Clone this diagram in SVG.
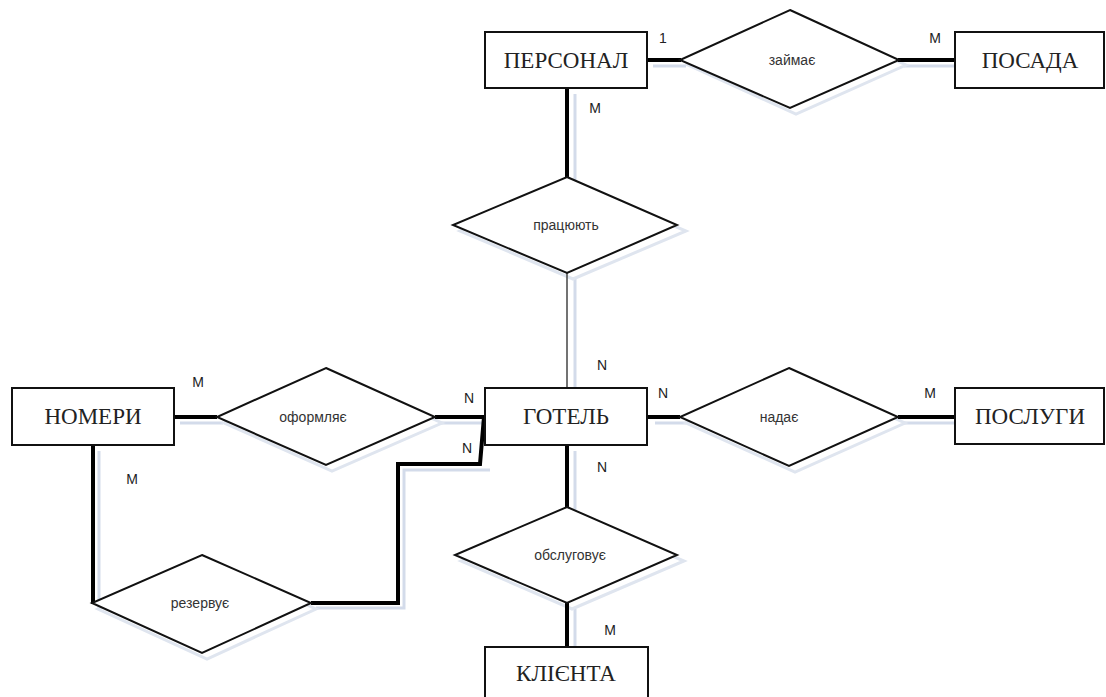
<svg xmlns="http://www.w3.org/2000/svg" width="1106" height="697" viewBox="0 0 1106 697">
<style>
.ent{fill:#fff;stroke:#111;stroke-width:2}
.rel{fill:#fff;stroke:#111;stroke-width:2;stroke-linejoin:miter}
.sh{fill:none;stroke:#d3dbea;stroke-width:3}
.shf{fill:#fff;stroke:#dfe5ef;stroke-width:3}
.et{font-family:"Liberation Serif",serif;font-size:23px;fill:#222;text-anchor:middle}
.rt{font-family:"Liberation Sans",sans-serif;font-size:14px;fill:#333;text-anchor:middle}
.ct{font-family:"Liberation Sans",sans-serif;font-size:14px;fill:#222;text-anchor:middle}
.thick{fill:none;stroke:#000;stroke-width:4}
.thin{fill:none;stroke:#444;stroke-width:1.5}
</style>
<rect width="1106" height="697" fill="#fff"/>
<g id="shadows">
<path class="sh" d="M653 66H686M904 66H961M575 94V182M575 279V392M223 423H180M441 423H491M99 451V608M490 470L488 470H404V608H316M575 451V512M575 609V652M686 423H655M904 423H961"/>
<polygon class="shf" points="796,16 906,65 796,114 688,65"/>
<polygon class="shf" points="573,183 686,231 573,279 460,231"/>
<polygon class="shf" points="332,374 442,423 332,471 224,423"/>
<polygon class="shf" points="795,374 905,423 795,472 686,423"/>
<polygon class="shf" points="207,561 316,609 207,659 98,609"/>
<polygon class="shf" points="572,513 684,561 572,609 461,561"/>
</g>
<g id="connectors">
<path class="thick" d="M647 60H681"/>
<path class="thick" d="M898 60H955"/>
<path class="thick" d="M567 88V178"/>
<path class="thin" d="M567 273V388"/>
<path class="thick" d="M174 417H217"/>
<path class="thick" d="M435 417H485"/>
<path class="thick" d="M647 417H680"/>
<path class="thick" d="M898 417H955"/>
<path class="thick" d="M484 417L480 464H398V603H311"/>
<path class="thick" d="M93 445V604"/>
<path class="thick" d="M567 445V507"/>
<path class="thick" d="M567 603V647"/>
</g>
<g id="ent-personal"><rect class="ent" x="485" y="32" width="162" height="56"/><text class="et" x="566" y="68">ПЕРСОНАЛ</text></g>
<g id="ent-posada"><rect class="ent" x="955" y="32" width="149" height="56"/><text class="et" x="1030" y="68">ПОСАДА</text></g>
<g id="ent-hotel"><rect class="ent" x="485" y="388" width="162" height="57"/><text class="et" x="566" y="424">ГОТЕЛЬ</text></g>
<g id="ent-nomery"><rect class="ent" x="12" y="388" width="162" height="57"/><text class="et" x="93" y="424">НОМЕРИ</text></g>
<g id="ent-posluhy"><rect class="ent" x="955" y="388" width="149" height="56"/><text class="et" x="1030" y="424">ПОСЛУГИ</text></g>
<g id="ent-klienta"><rect class="ent" x="485" y="647" width="163" height="56"/><text class="et" x="566" y="681">КЛІЄНТА</text></g>
<g id="rel-zaimaie"><polygon class="rel" points="790,10 899,60 790,108 680,60"/><text class="rt" x="792" y="65">займає</text></g>
<g id="rel-pratsiuiut"><polygon class="rel" points="567,177 677,225 567,273 453,225"/><text class="rt" x="566" y="230">працюють</text></g>
<g id="rel-oformliaie"><polygon class="rel" points="326,368 435,417 326,465 217,417"/><text class="rt" x="313" y="422">оформляє</text></g>
<g id="rel-nadaie"><polygon class="rel" points="789,368 898,417 789,466 680,417"/><text class="rt" x="779" y="422">надає</text></g>
<g id="rel-rezervuie"><polygon class="rel" points="202,555 311,603 202,653 92,603"/><text class="rt" x="200" y="608">резервує</text></g>
<g id="rel-obsluhovuie"><polygon class="rel" points="567,507 677,555 567,603 455,555"/><text class="rt" x="570" y="560">обслуговує</text></g>
<g id="cardinalities">
<text class="ct" x="663" y="43">1</text>
<text class="ct" x="595" y="113">M</text>
<text class="ct" x="935" y="43">M</text>
<text class="ct" x="602" y="370">N</text>
<text class="ct" x="663" y="398">N</text>
<text class="ct" x="602" y="472">N</text>
<text class="ct" x="930" y="398">M</text>
<text class="ct" x="198" y="387">M</text>
<text class="ct" x="469" y="403">N</text>
<text class="ct" x="467" y="453">N</text>
<text class="ct" x="132" y="484">M</text>
<text class="ct" x="610" y="635">M</text>
</g>
</svg>
